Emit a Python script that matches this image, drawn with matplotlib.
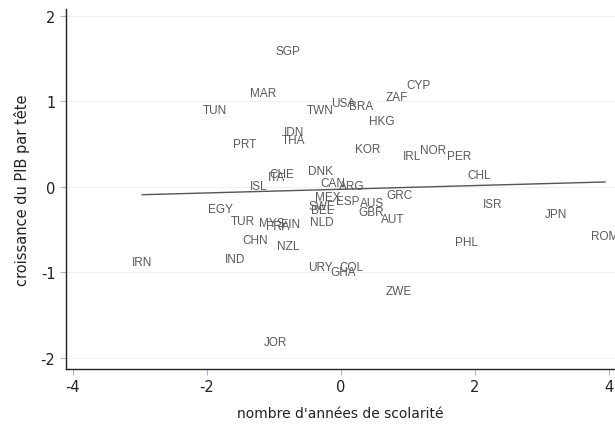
import numpy as np
import matplotlib
matplotlib.use("Agg")
import matplotlib.pyplot as plt

plt.rcParams["axes.unicode_minus"] = False

# country codes and their positions (years of schooling, GDP per head growth)
countries = ["SGP", "MAR", "TUN", "CYP", "ZAF", "USA", "BRA", "TWN", "HKG", "IDN",
             "THA", "PRT", "KOR", "IRL", "NOR", "PER", "DNK", "CHE", "ITA", "ISL",
             "CAN", "ARG", "CHL", "MEX", "ESP", "AUS", "GRC", "SWE", "BEL", "GBR",
             "AUT", "NLD", "ISR", "JPN", "ROM", "PHL", "EGY", "TUR", "MYS", "FRA",
             "FIN", "CHN", "NZL", "IND", "IRN", "URY", "COL", "GHA", "ZWE", "JOR"]
schooling = [-0.78, -1.15, -1.87, 1.16, 0.84, 0.04, 0.30, -0.30, 0.61, -0.70,
             -0.70, -1.43, 0.40, 1.07, 1.37, 1.76, -0.30, -0.88, -0.95, -1.22,
             -0.12, 0.16, 2.07, -0.19, 0.10, 0.46, 0.88, -0.28, -0.28, 0.46,
             0.78, -0.28, 2.27, 3.21, 3.94, 1.87, -1.79, -1.46, -1.03, -0.94,
             -0.75, -1.27, -0.78, -1.58, -2.96, -0.31, 0.16, 0.03, 0.87, -0.97]
growth = [1.59, 1.10, 0.90, 1.19, 1.05, 0.98, 0.95, 0.90, 0.77, 0.64,
          0.55, 0.50, 0.44, 0.36, 0.43, 0.36, 0.18, 0.15, 0.12, 0.01,
          0.05, 0.01, 0.14, -0.12, -0.16, -0.19, -0.10, -0.22, -0.27, -0.30,
          -0.38, -0.41, -0.20, -0.32, -0.57, -0.64, -0.26, -0.40, -0.42, -0.46,
          -0.44, -0.62, -0.69, -0.84, -0.88, -0.94, -0.94, -1.00, -1.22, -1.81]

x_ticks = [-4, -2, 0, 2, 4]
y_ticks = [-2, -1, 0, 1, 2]

x = np.array(schooling)
y = np.array(growth)
slope, intercept = np.polyfit(x, y, 1)

fig = plt.figure(figsize=(6.15, 4.31), dpi=100)
ax = fig.add_axes([0.107, 0.1415, 0.893, 0.8355])

for code, xi, yi in zip(countries, schooling, growth):
    ax.text(xi, yi, code, ha="center", va="center", fontsize=8.5,
            family="Liberation Sans", color="#5a5a5a", clip_on=True)

xs = np.array([x.min(), x.max()])
ax.plot(xs, intercept + slope * xs, color="#555555", lw=1.0)

ax.set_xlim(-4.1, 4.09)
ax.set_ylim(-2.13, 2.08)
ax.set_xticks(x_ticks)
ax.set_yticks(y_ticks)
ax.grid(axis="y", color="#f2f2f2", lw=0.8)
ax.set_axisbelow(True)

for side in ["top", "right"]:
    ax.spines[side].set_visible(False)
for side in ["left", "bottom"]:
    ax.spines[side].set_color("#222222")
    ax.spines[side].set_linewidth(1.0)

ax.tick_params(direction="out", length=4, color="#aab8c8", labelsize=10.5,
               labelcolor="#222222")
ax.set_xlabel("nombre d'années de scolarité", fontsize=10, color="#222222", labelpad=8)
ax.set_ylabel("croissance du PIB par tête", fontsize=10.5, color="#222222", labelpad=8)

fig.savefig("out.png", dpi=100)
